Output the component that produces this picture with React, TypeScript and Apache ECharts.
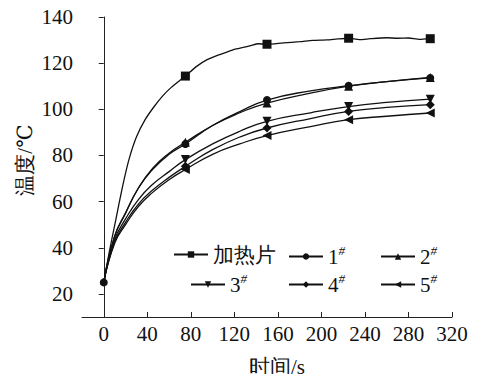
import React, { useEffect, useRef } from "react";
import * as echarts from "echarts";

const markerTimes = [0, 75, 150, 225, 300];
const heaterT = [0, 5, 11, 17, 23, 30, 38, 46, 54, 62, 75, 85, 95, 105, 112, 120, 128, 135, 142, 150, 165, 180, 192, 205, 215, 225, 235, 245, 260, 270, 280, 290, 300];
const heaterV = [25, 38, 52, 66, 78, 88, 95.5, 101, 105.7, 109.5, 114.4, 118.5, 121.5, 123.5, 124.6, 126, 126.8, 127.6, 128.4, 128.2, 128.8, 129.3, 129.9, 130.1, 130.5, 130.8, 130.2, 130.6, 131, 130.8, 130.9, 130.3, 130.6];
const sampleT = [0, 10, 20, 32, 45, 60, 75, 100, 125, 150, 190, 225, 260, 300];
const s1V = [25, 45, 55, 66, 74, 80.5, 85, 93, 99, 104, 108, 110.2, 112, 113.6];
const s2V = [25, 45, 55, 66, 74.5, 81, 85.7, 93, 98.5, 102.7, 107, 110, 112, 113.8];
const s3V = [25, 43.5, 52.5, 61, 67.5, 73, 78.2, 85, 90.5, 94.8, 98.5, 101.2, 103, 104.4];
const s4V = [25, 42.5, 51, 59, 65, 70.5, 75.3, 82.5, 88, 91.9, 96, 99.1, 100.8, 102];
const s5V = [25, 42, 50, 58, 64, 69.5, 73.9, 80.5, 85, 88.6, 92.5, 95.5, 97, 98.4];
const seriesNames = ["加热片", "1#", "2#", "3#", "4#", "5#"];
const xTicks = [0, 40, 80, 120, 160, 200, 240, 280, 320];
const yTicks = [20, 40, 60, 80, 100, 120, 140];

const FONT = "Times New Roman, Liberation Serif, DejaVu Serif, serif";

export default function App() {
  const ref = useRef<HTMLDivElement>(null);
  useEffect(() => {
    if (!ref.current) return;
    const chart = echarts.init(ref.current, undefined, { renderer: "svg" });
    const mk = (ts: number[], vs: number[], showStart: boolean) =>
      ts.map((t, i) =>
        markerTimes.includes(t) && (t !== 0 || showStart)
          ? { value: [t, vs[i]] }
          : { value: [t, vs[i]], symbol: "none" }
      );
    const defs = [
      { name: seriesNames[0], t: heaterT, v: heaterV, symbol: "rect", size: 9, rot: 0 },
      { name: seriesNames[1], t: sampleT, v: s1V, symbol: "circle", size: 8, rot: 0 },
      { name: seriesNames[2], t: sampleT, v: s2V, symbol: "triangle", size: 9, rot: 0 },
      { name: seriesNames[3], t: sampleT, v: s3V, symbol: "triangle", size: 9, rot: 180 },
      { name: seriesNames[4], t: sampleT, v: s4V, symbol: "diamond", size: 9, rot: 0 },
      { name: seriesNames[5], t: sampleT, v: s5V, symbol: "triangle", size: 9, rot: 90 },
    ];
    const legendPos = [
      { left: 173, top: 243 },
      { left: 288, top: 243 },
      { left: 380, top: 243 },
      { left: 190, top: 271 },
      { left: 288, top: 271 },
      { left: 380, top: 271 },
    ];
    const rich = {
      n: { fontFamily: FONT, fontSize: 21, color: "#111" },
      s: { fontFamily: FONT, fontSize: 13, fontStyle: "italic", color: "#111", padding: [0, 0, 12, 0] },
    };
    chart.setOption({
      animation: false,
      backgroundColor: "#fff",
      grid: { left: 82, right: 29, top: 17, bottom: 65 },
      xAxis: {
        type: "value",
        min: -20,
        max: 320,
        splitLine: { show: false },
        axisLine: { lineStyle: { color: "#222", width: 1 } },
        axisTick: { inside: true, length: 5, customValues: xTicks, lineStyle: { color: "#222" } },
        axisLabel: { customValues: xTicks, margin: 6, fontFamily: FONT, fontSize: 21, color: "#111" },
      },
      yAxis: {
        type: "value",
        min: 10,
        max: 140,
        splitLine: { show: false },
        axisLine: { show: true, lineStyle: { color: "#222", width: 1 } },
        axisTick: { show: true, inside: false, length: 5, customValues: yTicks, lineStyle: { color: "#222" } },
        axisLabel: { customValues: yTicks, margin: 9, fontFamily: FONT, fontSize: 21, color: "#111" },
      },
      legend: defs.map((d, i) => ({
        data: [d.name],
        left: legendPos[i].left,
        top: legendPos[i].top + 1,
        itemWidth: 34,
        itemHeight: 8,
        padding: 0,
        selectedMode: false,
        formatter: (name: string) =>
          name === "加热片" ? `{n|${name}}` : `{n|${name[0]}}{s|#}`,
        textStyle: { fontFamily: FONT, fontSize: 21, color: "#111", rich },
      })),
      graphic: [
        {
          type: "text",
          x: 25,
          y: 160,
          rotation: Math.PI / 2,
          style: {
            text: "温度/℃",
            fontFamily: FONT,
            fontSize: 21,
            fill: "#111",
            align: "center",
            verticalAlign: "middle",
          },
        },
        {
          type: "text",
          x: 277,
          y: 367,
          style: {
            text: "时间/s",
            fontFamily: FONT,
            fontSize: 21,
            fill: "#111",
            align: "center",
            verticalAlign: "middle",
          },
        },
      ],
      series: defs.map((d, i) => ({
        name: d.name,
        type: "line",
        data: mk(d.t, d.v, i === 1),
        symbol: d.symbol,
        symbolSize: d.size,
        symbolRotate: d.rot,
        showAllSymbol: true,
        smooth: d.name === "加热片" ? 0.2 : true,
        lineStyle: { color: "#111", width: 1.3 },
        itemStyle: { color: "#111" },
      })),
    });
    return () => chart.dispose();
  }, []);
  return <div ref={ref} style={{ width: 481, height: 382, margin: -8 }} />;
}
